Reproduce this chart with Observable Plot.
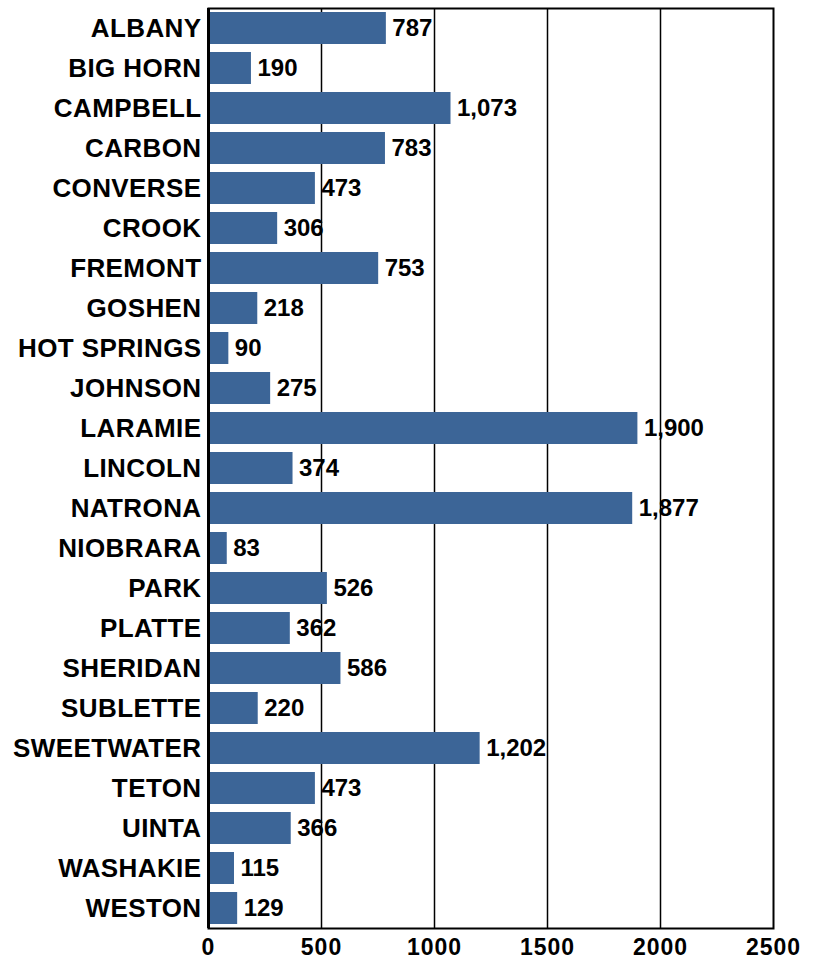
<!DOCTYPE html>
<html>
<head>
<meta charset="utf-8">
<script src="https://cdn.jsdelivr.net/npm/d3@7"></script>
<script src="https://cdn.jsdelivr.net/npm/@observablehq/plot@0.6"></script>
<style>
  html, body { margin: 0; padding: 0; background: white; }
</style>
</head>
<body>
<div id="chart"></div>
<script>
const counties = ["ALBANY", "BIG HORN", "CAMPBELL", "CARBON", "CONVERSE", "CROOK", "FREMONT", "GOSHEN", "HOT SPRINGS", "JOHNSON", "LARAMIE", "LINCOLN", "NATRONA", "NIOBRARA", "PARK", "PLATTE", "SHERIDAN", "SUBLETTE", "SWEETWATER", "TETON", "UINTA", "WASHAKIE", "WESTON"];
const values = [787, 190, 1073, 783, 473, 306, 753, 218, 90, 275, 1900, 374, 1877, 83, 526, 362, 586, 220, 1202, 473, 366, 115, 129];
const xTicks = [0, 500, 1000, 1500, 2000, 2500];
const gridValues = [500, 1000, 1500, 2000];

const data = counties.map((c, i) => ({county: c, value: values[i]}));
const fmt = d3.format(",");

const chart = Plot.plot({
  width: 816,
  height: 962,
  marginLeft: 208,
  marginRight: 43,
  marginTop: 8,
  marginBottom: 34,
  style: {fontFamily: "'Liberation Sans', Arial, sans-serif", fontWeight: "bold", background: "white", color: "black"},
  x: {domain: [0, 2500]},
  y: {domain: counties, paddingInner: 0.2, paddingOuter: 0.1},
  marks: [
    Plot.ruleX(gridValues, {stroke: "black", strokeWidth: 1.5}),
    Plot.barX(data, {x: "value", y: "county", fill: "#3C6597"}),
    Plot.frame({stroke: "black", strokeWidth: 2}),
    Plot.ruleX([0], {stroke: "black", strokeWidth: 3}),
    Plot.text(data, {x: "value", y: "county", text: d => fmt(d.value), textAnchor: "start", dx: 6, fontSize: 24, fill: "black", fontWeight: "bold"}),
    Plot.axisX({ticks: xTicks, tickSize: 0, tickPadding: 10, fontSize: 23, tickFormat: d => String(d), label: null}),
    Plot.axisY({tickSize: 0, tickPadding: 7, fontSize: 26, label: null})
  ]
});

chart.querySelectorAll('g[aria-label="y-axis tick label"] text').forEach(t => {
  t.style.letterSpacing = "0.4px";
});
chart.querySelectorAll('g[aria-label="x-axis tick label"] text').forEach(t => {
  t.style.letterSpacing = "1px";
});

document.getElementById("chart").appendChild(chart);
</script>
</body>
</html>
